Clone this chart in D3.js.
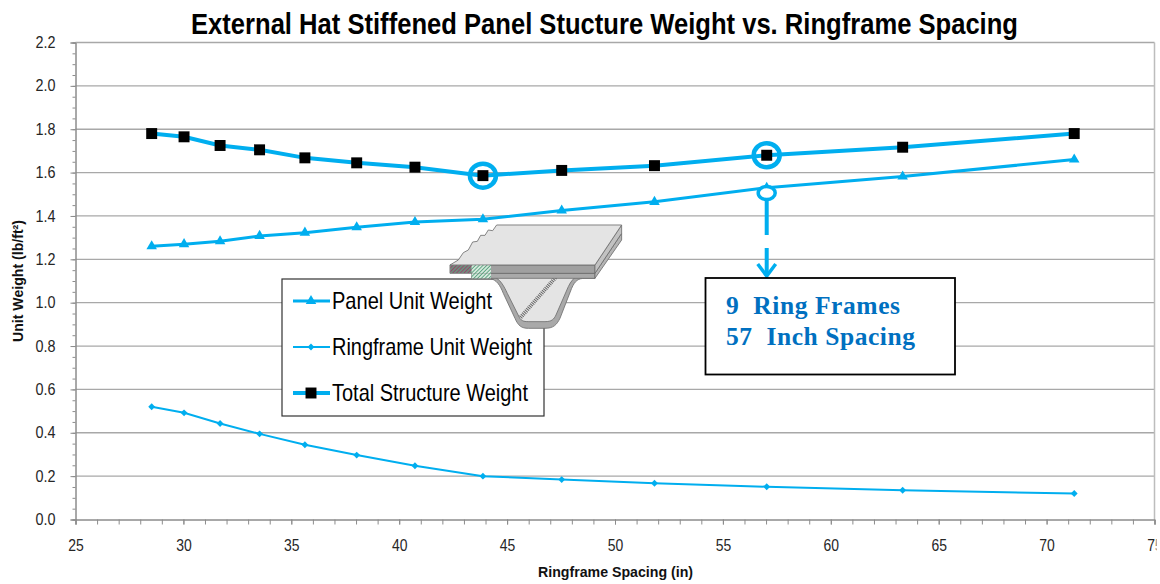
<!DOCTYPE html>
<html>
  <head>
    <style>
      html, body { margin: 0; padding: 0; background: #fff; }
      svg { display: block; font-family: "Liberation Sans", Arial, sans-serif; }
    </style>
  </head>

  <body>

    <svg class="surface" width="1160" height="584"></svg>

    <script src="https://cdn.jsdelivr.net/npm/d3@7"></script>
    <script>

      const spacing = [28.53, 30.03, 31.7, 33.53, 35.63, 38.03, 40.73, 43.88, 47.53, 51.83, 57.03, 63.33, 71.28]
      const panelWeight = [1.26, 1.27, 1.283, 1.308, 1.323, 1.348, 1.372, 1.385, 1.425, 1.465, 1.53, 1.582, 1.66]
      const ringframeWeight = [0.52, 0.492, 0.443, 0.395, 0.345, 0.297, 0.248, 0.2, 0.184, 0.167, 0.151, 0.135, 0.12]
      const totalWeight = [1.78, 1.765, 1.725, 1.705, 1.668, 1.645, 1.625, 1.586, 1.61, 1.632, 1.68, 1.717, 1.78]

      const xTicks = [25, 30, 35, 40, 45, 50, 55, 60, 65, 70, 75]
      const yTicks = [0, 0.2, 0.4, 0.6, 0.8, 1.0, 1.2, 1.4, 1.6, 1.8, 2.0, 2.2]
      const seriesNames = ['Panel Unit Weight', 'Ringframe Unit Weight', 'Total Structure Weight']
      const calloutLines = ['9  Ring Frames', '57  Inch Spacing']

      const blue = '#00aeef'
      const tickColor = '#8c8c8c'
      const labelColor = '#262626'
      const surface = d3.select('.surface')

      const x = d3.scaleLinear().domain([25, 75]).range([75.5, 1154.5])
      const y = d3.scaleLinear().domain([0, 2.2]).range([519.5, 42.5])

      // title, squeezed like the narrow font in the original
      surface.append('text')
        .attr('x', 191).attr('y', 34)
        .attr('textLength', 827).attr('lengthAdjust', 'spacingAndGlyphs')
        .attr('font-size', 29).attr('font-weight', 'bold').attr('fill', '#000')
        .text('External Hat Stiffened Panel Stucture Weight vs. Ringframe Spacing')

      // grid
      surface.append('g').selectAll('line').data(yTicks.slice(1)).enter().append('line')
        .attr('x1', x(25)).attr('x2', x(75))
        .attr('y1', d => y(d)).attr('y2', d => y(d))
        .attr('stroke', '#a8a8a8').attr('stroke-width', 1.3)

      surface.append('line')
        .attr('x1', x(75)).attr('x2', x(75)).attr('y1', y(2.2)).attr('y2', y(0))
        .attr('stroke', '#bdbdbd').attr('stroke-width', 1.5)

      // minor ticks first, then labelled axes on top
      surface.append('g')
        .attr('transform', `translate(${x(25)},0)`)
        .call(d3.axisLeft(y).tickValues(d3.range(0, 2.201, 0.05)).tickSize(3).tickFormat(''))
        .call(g => g.selectAll('path,line').attr('stroke', tickColor))

      surface.append('g')
        .attr('transform', `translate(0,${y(0)})`)
        .call(d3.axisBottom(x).tickValues(d3.range(25, 76, 1)).tickSize(5).tickFormat(''))
        .call(g => g.selectAll('path,line').attr('stroke', tickColor))

      surface.append('g')
        .attr('transform', `translate(${x(25)},0)`)
        .call(d3.axisLeft(y).tickValues(yTicks).tickSize(5).tickPadding(15).tickFormat(d3.format('.1f')))
        .call(g => g.selectAll('path,line').attr('stroke', tickColor))
        .call(g => g.selectAll('text').attr('font-family', null).attr('font-size', 16).attr('fill', labelColor)
          .attr('textLength', 20).attr('lengthAdjust', 'spacingAndGlyphs'))

      // the last label is cut off at the picture edge in the original, so clip the axis there
      surface.append('clipPath').attr('id', 'edge').append('rect')
        .attr('x', -5).attr('y', -5).attr('width', 1161.5).attr('height', 80)

      surface.append('g')
        .attr('transform', `translate(0,${y(0)})`)
        .attr('clip-path', 'url(#edge)')
        .call(d3.axisBottom(x).tickValues(xTicks).tickSize(5).tickPadding(15).tickFormat(d3.format('d')))
        .call(g => g.selectAll('path,line').attr('stroke', tickColor))
        .call(g => g.selectAll('text').attr('font-family', null).attr('font-size', 16).attr('fill', labelColor)
          .attr('textLength', 15.5).attr('lengthAdjust', 'spacingAndGlyphs'))

      // axis titles
      surface.append('text')
        .attr('x', 538).attr('y', 577)
        .attr('textLength', 155).attr('lengthAdjust', 'spacingAndGlyphs')
        .attr('font-size', 14).attr('font-weight', 'bold').attr('fill', '#111')
        .text('Ringframe Spacing (in)')

      surface.append('text')
        .attr('transform', 'translate(23,342) rotate(-90)')
        .attr('textLength', 122).attr('lengthAdjust', 'spacingAndGlyphs')
        .attr('font-size', 14).attr('font-weight', 'bold').attr('fill', '#111')
        .text('Unit Weight (lb/ft²)')

      const line = d3.line().x(d => x(d[0])).y(d => y(d[1]))
      const pairs = values => values.map((v, i) => [spacing[i], v])

      const series = [
        { values: panelWeight, width: 3, symbol: d3.symbolTriangle, size: 48, fill: blue },
        { values: ringframeWeight, width: 2, symbol: d3.symbolDiamond2 || d3.symbolDiamond, size: 30, fill: blue },
        { values: totalWeight, width: 4, symbol: d3.symbolSquare, size: 120, fill: '#000' }
      ]

      series.forEach(s => {
        surface.append('path')
          .attr('d', line(pairs(s.values)))
          .attr('fill', 'none').attr('stroke', blue).attr('stroke-width', s.width)

        surface.append('g').selectAll('path').data(pairs(s.values)).enter().append('path')
          .attr('d', d3.symbol().type(s.symbol).size(s.size))
          .attr('transform', d => `translate(${x(d[0])},${y(d[1])})`)
          .attr('fill', s.fill)
      })

      // highlighted points
      surface.append('g').selectAll('ellipse').data([[spacing[7], totalWeight[7]], [spacing[10], totalWeight[10]]]).enter().append('ellipse')
        .attr('cx', d => x(d[0])).attr('cy', d => y(d[1]))
        .attr('rx', 13).attr('ry', 12)
        .attr('fill', 'none').attr('stroke', blue).attr('stroke-width', 4.5)

      // callout with dashed arrow
      const cx = x(spacing[10])
      surface.append('line')
        .attr('x1', cx).attr('x2', cx).attr('y1', 200).attr('y2', 235)
        .attr('stroke', blue).attr('stroke-width', 4)
      surface.append('line')
        .attr('x1', cx).attr('x2', cx).attr('y1', 248).attr('y2', 276)
        .attr('stroke', blue).attr('stroke-width', 4)
      surface.append('path')
        .attr('d', `M${cx - 9},264 L${cx},276 L${cx + 9},264`)
        .attr('fill', 'none').attr('stroke', blue).attr('stroke-width', 3.5)
      surface.append('ellipse')
        .attr('cx', cx).attr('cy', 193).attr('rx', 8.5).attr('ry', 6.5)
        .attr('fill', '#fff').attr('stroke', blue).attr('stroke-width', 3.5)

      surface.append('rect')
        .attr('x', 705.5).attr('y', 278).attr('width', 249.5).attr('height', 96.5)
        .attr('fill', '#fff').attr('stroke', '#000').attr('stroke-width', 1.8)

      const calloutLengths = [174, 189]
      surface.append('g').selectAll('text').data(calloutLines).enter().append('text')
        .attr('x', 726).attr('y', (d, i) => 314 + i * 31)
        .attr('textLength', (d, i) => calloutLengths[i])
        .attr('font-family', '"Liberation Serif"').attr('font-size', 25.5).attr('font-weight', 'bold')
        .attr('fill', '#0070c0').style('white-space', 'pre')
        .text(d => d)

      // legend
      surface.append('rect')
        .attr('x', 282).attr('y', 279).attr('width', 262).attr('height', 137)
        .attr('fill', '#fff').attr('stroke', '#333').attr('stroke-width', 1.2)

      const legendLengths = [160, 200, 196]
      const rows = surface.append('g').selectAll('g').data(series).enter().append('g')
        .attr('transform', (d, i) => `translate(0,${301 + i * 46})`)

      rows.append('line')
        .attr('x1', 293).attr('x2', 330)
        .attr('stroke', blue).attr('stroke-width', d => d.width)
      rows.append('path')
        .attr('d', d => d3.symbol().type(d.symbol).size(d.size)())
        .attr('transform', 'translate(311,0)')
        .attr('fill', d => d.fill)
      rows.append('text')
        .attr('x', 332).attr('y', 8)
        .attr('textLength', (d, i) => legendLengths[i]).attr('lengthAdjust', 'spacingAndGlyphs')
        .attr('font-size', 24).attr('fill', '#000')
        .text((d, i) => seriesNames[i])

      // hatch patterns for the cut faces of the sketch
      const defs = surface.append('defs')
      const hatch = (id, back, front) => {
        const p = defs.append('pattern').attr('id', id)
          .attr('width', 8).attr('height', 8).attr('patternUnits', 'userSpaceOnUse')
          .attr('patternTransform', 'rotate(45)')
        p.append('rect').attr('width', 8).attr('height', 8).attr('fill', back)
        p.append('line').attr('x1', 0).attr('x2', 0).attr('y1', 0).attr('y2', 8)
          .attr('stroke', front).attr('stroke-width', 5)
      }
      hatch('greenHatch', '#d5e8dc', '#4f9e78')
      hatch('purpleHatch', '#6d8f7c', '#9a3f6c')

      // hat stiffener sketch, drawn in 3x units from the corner of its box
      const hat = surface.append('g').attr('transform', 'translate(270,210) scale(0.3333)')
      const part = (d, fill) => hat.append('path').attr('d', d).attr('fill', fill)
        .attr('stroke', '#6e6e6e').attr('stroke-width', 2.5).attr('stroke-linejoin', 'round')

      // hat section
      part('M660,205 C680,210 690,225 700,250 L735,325 C745,348 755,355 775,355 L825,355 C850,355 860,345 870,325 L905,235 C915,212 925,205 945,205 L975,205 L975,190 L660,190 Z', '#a9a9a9')
      part('M680,205 C692,212 702,228 712,250 L748,322 C755,335 765,335 780,335 L825,335 C845,335 852,328 858,315 L895,230 C902,214 912,205 925,192 L680,192 Z', '#e4e4e4')
      // weld seam
      hat.append('line')
        .attr('x1', 752).attr('y1', 322).attr('x2', 866).attr('y2', 192)
        .attr('stroke', '#666').attr('stroke-width', 12).attr('stroke-dasharray', '3 3')
      // lower plate and flange
      part('M605,190 L975,190 L975,205 L605,205 Z', '#a9a9a9')
      part('M975,190 L1055,70 L1055,90 L975,205 Z', '#b5b5b5')
      // skin
      part('M540,165 L975,165 L975,190 L540,190 Z', '#a0a0a0')
      part('M975,165 L1055,45 L1055,70 L975,190 Z', '#c2c2c2')
      part('M540,165 L975,165 L1055,45 L680,45 L668,62 L655,60 L645,76 L632,76 L622,94 L608,96 L595,120 L580,128 L565,150 Z', '#e4e4e4')
      // cut faces
      hat.append('rect').attr('x', 541).attr('y', 166).attr('width', 64).attr('height', 23).attr('fill', 'url(#purpleHatch)')
      hat.append('rect').attr('x', 605).attr('y', 166).attr('width', 58).attr('height', 23).attr('fill', 'url(#greenHatch)')
      hat.append('rect').attr('x', 605).attr('y', 190).attr('width', 58).attr('height', 15).attr('fill', 'url(#greenHatch)')

    </script>
  </body>

</html>
